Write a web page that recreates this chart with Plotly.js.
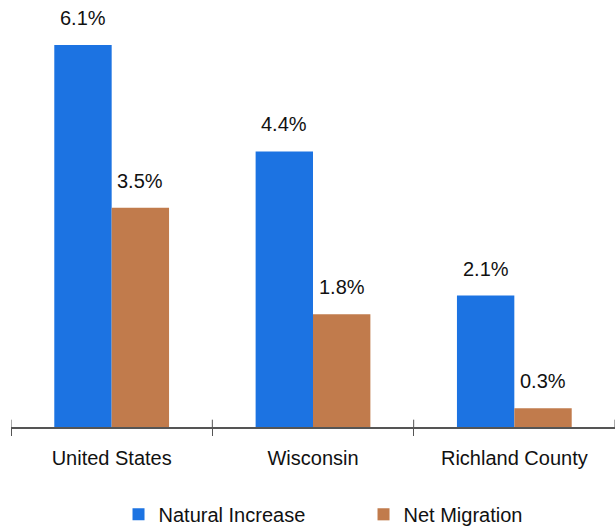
<!DOCTYPE html>
<html>
<head>
<meta charset="utf-8">
<script src="https://cdn.plot.ly/plotly-3.0.1.min.js"></script>
<style>html,body{margin:0;padding:0;background:#fff;}#chart{width:615px;height:527px;}</style>
</head>
<body>
<div id="chart"></div>
<script>
const categories = ["United States", "Wisconsin", "Richland County"];
const naturalIncrease = [6.1, 4.4, 2.1];
const netMigration = [3.5, 1.8, 0.3];
const seriesNames = ["Natural Increase", "Net Migration"];

const BLUE = "#1c73e2";
const BROWN = "#c17b4c";
const FONT = "Liberation Sans, Arial, sans-serif";
const bargap = 0.43;
const off = (1 - bargap) / 4;

const traces = [
  {type: "bar", name: seriesNames[0], x: categories, y: naturalIncrease, marker: {color: BLUE}, hoverinfo: "none"},
  {type: "bar", name: seriesNames[1], x: categories, y: netMigration, marker: {color: BROWN}, hoverinfo: "none"}
];

const annotations = [];
categories.forEach((c, i) => {
  annotations.push({x: i - off, y: naturalIncrease[i], xref: "x", yref: "y", text: naturalIncrease[i].toFixed(1) + "%", showarrow: false, yanchor: "middle", yshift: 27, font: {family: FONT, size: 20, color: "#111"}});
  annotations.push({x: i + off, y: netMigration[i], xref: "x", yref: "y", text: netMigration[i].toFixed(1) + "%", showarrow: false, yanchor: "middle", yshift: 27, font: {family: FONT, size: 20, color: "#111"}});
});

const shapes = [];
for (let k = 0; k <= categories.length; k++) {
  shapes.push({type: "line", xref: "x", yref: "paper", x0: k - 0.5, x1: k - 0.5, y0: 0, y1: 0.018, line: {color: "#555", width: 1}});
}

const layout = {
  width: 615, height: 527,
  margin: {l: 11, r: 0, t: 20, b: 100},
  paper_bgcolor: "#fff", plot_bgcolor: "#fff",
  barmode: "group", bargap: bargap, bargroupgap: 0,
  font: {family: FONT, size: 20, color: "#111"},
  xaxis: {type: "category", range: [-0.5, 2.5], showline: true, linecolor: "#555", linewidth: 1.5,
    ticks: "outside", tickson: "boundaries", ticklen: 7, tickcolor: "#555", tickwidth: 1,
    ticklabelstandoff: 12,
    tickfont: {family: FONT, size: 20, color: "#111"}, showgrid: false, zeroline: false, fixedrange: true},
  yaxis: {range: [0, 6.5], visible: false, showgrid: false, zeroline: false, fixedrange: true},
  showlegend: true,
  legend: {orientation: "h", x: 0.178, xanchor: "left", yref: "container", y: 0.024, yanchor: "middle",
    font: {family: FONT, size: 20, color: "#111"}, entrywidth: 200, entrywidthmode: "pixels",
    itemwidth: 30, bgcolor: "rgba(0,0,0,0)"},
  annotations: annotations,
  shapes: shapes
};

Plotly.newPlot("chart", traces, layout, {displayModeBar: false, staticPlot: true});
</script>
</body>
</html>
